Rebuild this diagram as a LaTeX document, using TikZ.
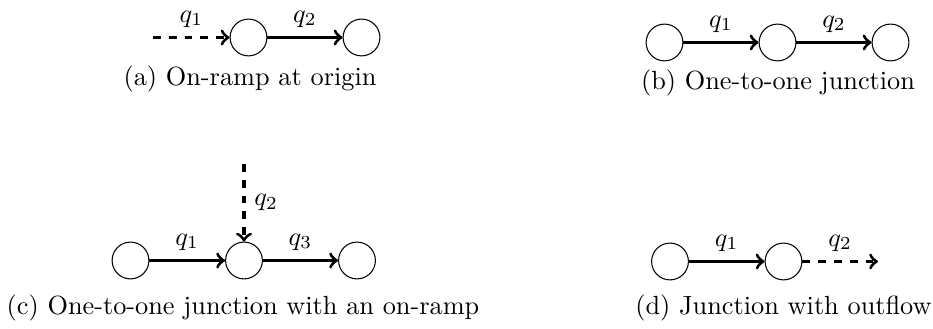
\documentclass[tikz,border=0pt]{standalone}
\begin{document}
\begin{tikzpicture}[x=0.01337cm,y=-0.01337cm,
  junc/.style={draw,circle,line width=0.4pt,minimum size=14pt,inner sep=0pt},
  flow/.style={->,very thick},
  ramp/.style={->,very thick,dashed},
  lab/.style={midway,above},
  captext/.style={anchor=base,inner sep=0pt}]
\useasboundingbox (0,0) rectangle (933,329);
% (a)
\coordinate (a0) at (153,37.5);
\node[junc] (a1) at (248.5,37.5) {};
\node[junc] (a2) at (361.5,37.5) {};
\draw[ramp] (a0) -- (a1) node[lab] {$q_1$};
\draw[flow] (a1) -- (a2) node[lab] {$q_2$};
\node[captext] (capa) at (250,86) {(a) On-ramp at origin};
% (b)
\node[junc] (b1) at (664.5,42.5) {};
\node[junc] (b2) at (777.5,42.5) {};
\node[junc] (b3) at (890.5,42.5) {};
\draw[flow] (b1) -- (b2) node[lab] {$q_1$};
\draw[flow] (b2) -- (b3) node[lab] {$q_2$};
\node[captext] (capb) at (778,90) {(b) One-to-one junction};
% (c)
\node[junc] (c1) at (130.5,260.5) {};
\node[junc] (c2) at (244,260.5) {};
\node[junc] (c3) at (357,260.5) {};
\coordinate (c0) at (244,164);
\draw[ramp] (c0) -- (c2) node[midway,right] {$q_2$};
\draw[flow] (c1) -- (c2) node[lab] {$q_1$};
\draw[flow] (c2) -- (c3) node[lab] {$q_3$};
\node[captext] (capc) at (243,315) {(c) One-to-one junction with an on-ramp};
% (d)
\node[junc] (d1) at (670,261.5) {};
\node[junc] (d2) at (783.5,261.5) {};
\coordinate (d3) at (878,261.5);
\draw[flow] (d1) -- (d2) node[lab] {$q_1$};
\draw[ramp] (d2) -- (d3) node[lab] {$q_2$};
\node[captext] (capd) at (783.5,315) {(d) Junction with outflow};
\end{tikzpicture}
\end{document}
